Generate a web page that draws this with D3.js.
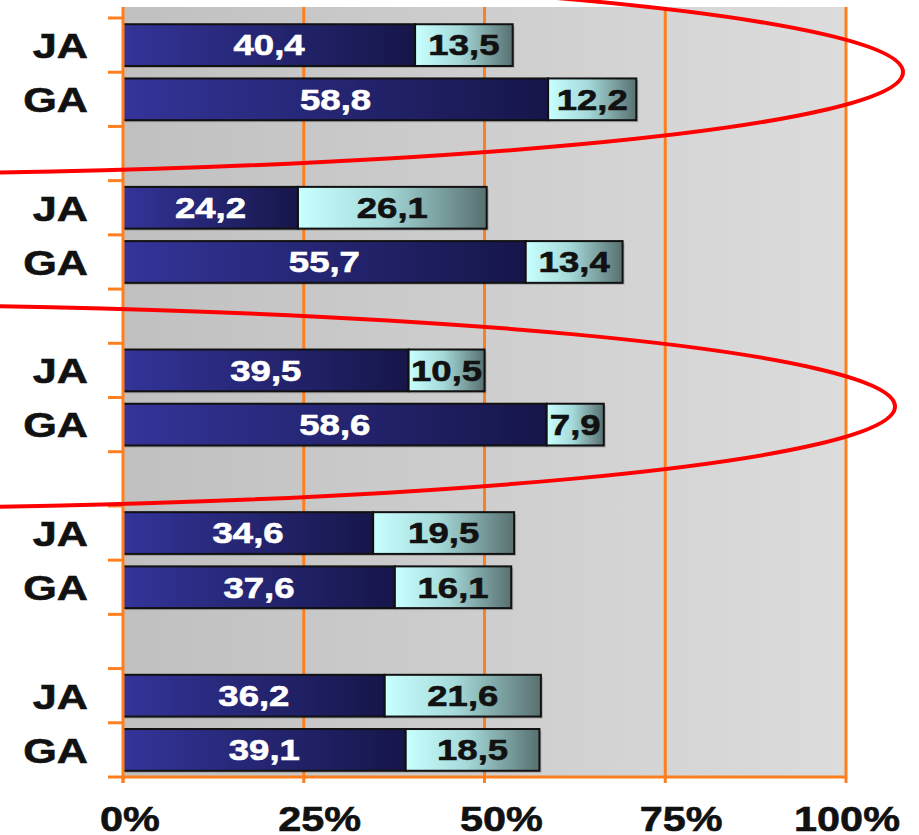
<!DOCTYPE html>
<html>
<head>
<meta charset="utf-8">
<script src="https://cdn.jsdelivr.net/npm/d3@7"></script>
<style>
  html, body { margin: 0; padding: 0; background: #fff; }
  svg { display: block; }
  text { font-family: "Liberation Sans", Arial, sans-serif; font-weight: bold; }
</style>
</head>
<body>
<svg id="chart" width="919" height="835"></svg>
<script>
// Two respondent groups per block, five blocks
const rowLabels = ["JA", "GA"];
// first (dark) segment of each bar, per block: [JA, GA]
const darkValues = [
  [40.4, 58.8],
  [24.2, 55.7],
  [39.5, 58.6],
  [34.6, 37.6],
  [36.2, 39.1]
];
// second (light) segment of each bar, per block: [JA, GA]
const lightValues = [
  [13.5, 12.2],
  [26.1, 13.4],
  [10.5, 7.9],
  [19.5, 16.1],
  [21.6, 18.5]
];
const tickValues = [0, 25, 50, 75, 100];
// highlighted blocks (index into the block list)
const highlightedBlocks = [0, 2];

const svg = d3.select("#chart");
const plot = { left: 123, right: 846, top: 7, bandTop: 18, bottom: 777 };
const orange = "#ff7f1e";

// one slot per bar, plus an empty slot between blocks
const slots = [];
darkValues.forEach((pair, g) => {
  rowLabels.forEach((lab, i) => {
    slots.push({ key: `b${g}-${lab}`, label: lab, block: g,
                 dark: darkValues[g][i], light: lightValues[g][i] });
  });
  if (g < darkValues.length - 1) slots.push({ key: `b${g}-gap`, label: "", block: g, dark: null });
});

const x = d3.scaleLinear().domain([0, 100]).range([plot.left, plot.right]);
const y = d3.scaleBand().domain(slots.map(d => d.key))
  .range([plot.bandTop, plot.bottom]).paddingInner(0.23).paddingOuter(0.115);

const fmt = d3.formatLocale({ decimal: ",", thousands: ".", grouping: [3], currency: ["", ""] }).format(".1f");

const defs = svg.append("defs");
const bgGrad = defs.append("linearGradient").attr("id", "bgGrad");
bgGrad.append("stop").attr("offset", "0%").attr("stop-color", "#c0c0c0");
bgGrad.append("stop").attr("offset", "100%").attr("stop-color", "#dcdcdc");

const darkGrad = defs.append("linearGradient").attr("id", "darkGrad");
darkGrad.append("stop").attr("offset", "0%").attr("stop-color", "#34349a");
darkGrad.append("stop").attr("offset", "100%").attr("stop-color", "#16164a");

const lightGrad = defs.append("linearGradient").attr("id", "lightGrad");
lightGrad.append("stop").attr("offset", "0%").attr("stop-color", "#c8ffff");
lightGrad.append("stop").attr("offset", "45%").attr("stop-color", "#a6dada");
lightGrad.append("stop").attr("offset", "100%").attr("stop-color", "#587070");

// plot background
svg.append("rect")
  .attr("x", plot.left).attr("y", plot.top)
  .attr("width", plot.right - plot.left).attr("height", plot.bottom - plot.top)
  .attr("fill", "url(#bgGrad)");

// vertical gridlines
svg.append("g").selectAll("line").data(tickValues.slice(1)).join("line")
  .attr("x1", d => x(d)).attr("x2", d => x(d))
  .attr("y1", plot.top).attr("y2", plot.bottom)
  .attr("stroke", orange).attr("stroke-width", 3);

// bars
const bars = slots.filter(d => d.dark !== null);
const barG = svg.append("g");
const bh = y.bandwidth();

// soft shadow
barG.selectAll("rect.shadow").data(bars).join("rect")
  .attr("class", "shadow")
  .attr("x", x(0) + 2).attr("y", d => y(d.key) + 2)
  .attr("width", d => x(d.dark + d.light) - x(0)).attr("height", bh)
  .attr("fill", "rgba(0,0,0,0.18)");

barG.selectAll("rect.dark").data(bars).join("rect")
  .attr("class", "dark")
  .attr("x", x(0)).attr("y", d => y(d.key))
  .attr("width", d => x(d.dark) - x(0)).attr("height", bh)
  .attr("fill", "url(#darkGrad)").attr("stroke", "#111").attr("stroke-width", 2);

barG.selectAll("rect.light").data(bars).join("rect")
  .attr("class", "light")
  .attr("x", d => x(d.dark)).attr("y", d => y(d.key))
  .attr("width", d => x(d.dark + d.light) - x(d.dark)).attr("height", bh)
  .attr("fill", "url(#lightGrad)").attr("stroke", "#111").attr("stroke-width", 2);

// horizontally stretched bold text
function label(g, tx, ty, txt, size, sx, anchor, fill) {
  g.append("text")
    .attr("transform", `translate(${tx},${ty}) scale(${sx},1)`)
    .attr("text-anchor", anchor)
    .attr("font-size", size)
    .attr("fill", fill)
    .attr("stroke", fill).attr("stroke-width", 0.6)
    .text(txt);
}

const valG = svg.append("g");
const vs = 29;
bars.forEach(d => {
  const cy = y(d.key) + bh / 2 + vs * 0.716 / 2;
  label(valG, (x(0) + x(d.dark)) / 2, cy, fmt(d.dark), vs, 1.26, "middle", "#fff");
  label(valG, (x(d.dark) + x(d.dark + d.light)) / 2, cy, fmt(d.light), vs, 1.26, "middle", "#111");
});

// y axis line and ticks between slots
const axG = svg.append("g");
axG.append("line")
  .attr("x1", plot.left).attr("x2", plot.left)
  .attr("y1", plot.top).attr("y2", plot.bottom + 6)
  .attr("stroke", orange).attr("stroke-width", 3);
const bounds = slots.map(d => y(d.key) - y.step() * y.paddingInner() / 2);
bounds.push(plot.bottom);
axG.selectAll("line.ytick").data(bounds).join("line")
  .attr("class", "ytick")
  .attr("x1", plot.left - 15).attr("x2", plot.left)
  .attr("y1", d => d).attr("y2", d => d)
  .attr("stroke", orange).attr("stroke-width", 3);

// x axis line and ticks
axG.append("line")
  .attr("x1", plot.left).attr("x2", plot.right)
  .attr("y1", plot.bottom).attr("y2", plot.bottom)
  .attr("stroke", orange).attr("stroke-width", 3);
axG.selectAll("line.xtick").data(tickValues).join("line")
  .attr("class", "xtick")
  .attr("x1", d => x(d)).attr("x2", d => x(d))
  .attr("y1", plot.bottom).attr("y2", plot.bottom + 6)
  .attr("stroke", orange).attr("stroke-width", 3);

// category labels
const catG = svg.append("g");
const cs = 36;
bars.forEach(d => {
  label(catG, 88, y(d.key) + bh / 2 + cs * 0.716 / 2, d.label, cs, 1.2, "end", "#111");
});

// percentage tick labels, kept inside the page at both ends
const tickG = svg.append("g");
const ts = 36;
const tickShift = [7, 16, 17, 16, 1];
tickValues.forEach((v, i) => {
  label(tickG, x(v) + tickShift[i], 831, v + "%", ts, 1.15, "middle", "#111");
});

// red outlines around highlighted blocks, opening to the left
const hlG = svg.append("g");
const outlineDrop = [0, 9];
highlightedBlocks.forEach((g, i) => {
  const top = y(`b${g}-JA`);
  const bot = y(`b${g}-GA`) + bh;
  const cy = (top + bot) / 2 + outlineDrop[i];
  const apex = i === 0 ? 903 : 895;
  hlG.append("ellipse")
    .attr("cx", -200).attr("cy", cy)
    .attr("rx", apex + 200).attr("ry", 102)
    .attr("fill", "none").attr("stroke", "#ff0000").attr("stroke-width", 4);
});
</script>
</body>
</html>
